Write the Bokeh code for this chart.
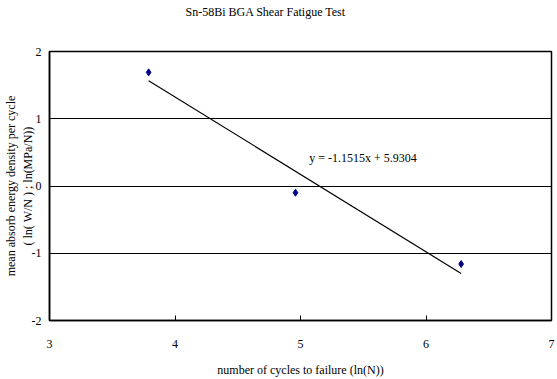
from bokeh.plotting import figure
from bokeh.models import Label, Range1d, FixedTicker, Title
from bokeh.embed import file_html
from bokeh.resources import INLINE

# data
cycles_ln = [3.79, 4.96, 6.28]
energy_ln = [1.69, -0.10, -1.16]
slope = -1.1515
intercept = 5.9304
x_ticks = [3, 4, 5, 6, 7]
y_ticks = [-2, -1, 0, 1, 2]
title_text = "Sn-58Bi BGA Shear Fatigue Test"
x_label = "number of cycles to failure (ln(N))"
y_label = "mean absorb energy density per cycle\n( ln( W/N ) ; ln(MPa/N))"
eq_text = "y = -1.1515x + 5.9304"

FONT = "Liberation Serif"

p = figure(width=557, height=379, output_backend="svg", toolbar_location=None,
           x_range=Range1d(3, 7), y_range=Range1d(-2, 2),
           min_border_left=49, min_border_right=6, min_border_top=51, min_border_bottom=59)
p.background_fill_color = "white"
p.border_fill_color = "white"
p.outline_line_color = "black"
p.outline_line_width = 1.5

# spacer between frame and title
p.add_layout(Title(text=" ", text_font=FONT, text_font_size="12px", standoff=17), "above")

p.title.text = title_text
p.title.text_font = FONT
p.title.text_font_size = "12px"
p.title.text_font_style = "normal"
p.title.text_color = "black"
p.title.align = "left"
p.title.offset = 136
p.title.vertical_align = "bottom"
p.title.standoff = 0

for ax in (p.xaxis[0], p.yaxis[0]):
    ax.axis_line_color = "black"
    ax.axis_line_width = 1.5
    ax.major_label_text_font = FONT
    ax.major_label_text_font_size = "12px"
    ax.major_label_text_color = "black"
    ax.minor_tick_line_color = None
    ax.axis_label_text_font = FONT
    ax.axis_label_text_font_style = "normal"
    ax.axis_label_text_color = "black"

p.xaxis.ticker = FixedTicker(ticks=x_ticks)
p.yaxis.ticker = FixedTicker(ticks=y_ticks)
p.yaxis.major_label_overrides = {t: str(t) for t in y_ticks}
p.xaxis.major_tick_in = 5
p.xaxis.major_tick_out = 0
p.xaxis.major_tick_line_color = "black"
p.xaxis.major_label_standoff = 19
p.xaxis.axis_label = x_label
p.xaxis.axis_label_text_font_size = "12px"
p.xaxis.axis_label_standoff = 12

p.yaxis.major_tick_in = 0
p.yaxis.major_tick_out = 0
p.yaxis.major_label_standoff = 8
p.yaxis.axis_label = y_label
p.yaxis.axis_label_text_font_size = "12px"
p.yaxis.axis_label_standoff = -6

p.xgrid.grid_line_color = None
p.ygrid.grid_line_color = "black"
p.ygrid.grid_line_width = 1
p.ygrid.ticker = FixedTicker(ticks=[-1, 0, 1])

# trend line
x0, x1 = min(cycles_ln), max(cycles_ln)
p.line([x0, x1], [slope * x0 + intercept, slope * x1 + intercept], line_color="black", line_width=1.2)

# points
p.scatter(cycles_ln, energy_ln, marker="diamond", size=7, fill_color="#000080", line_color="#000080")

# equation
p.add_layout(Label(x=5.07, y=0.42, text=eq_text, text_font=FONT, text_font_size="12px",
                   text_baseline="middle", text_color="black"))

open("out.html", "w").write(file_html(p, INLINE))
